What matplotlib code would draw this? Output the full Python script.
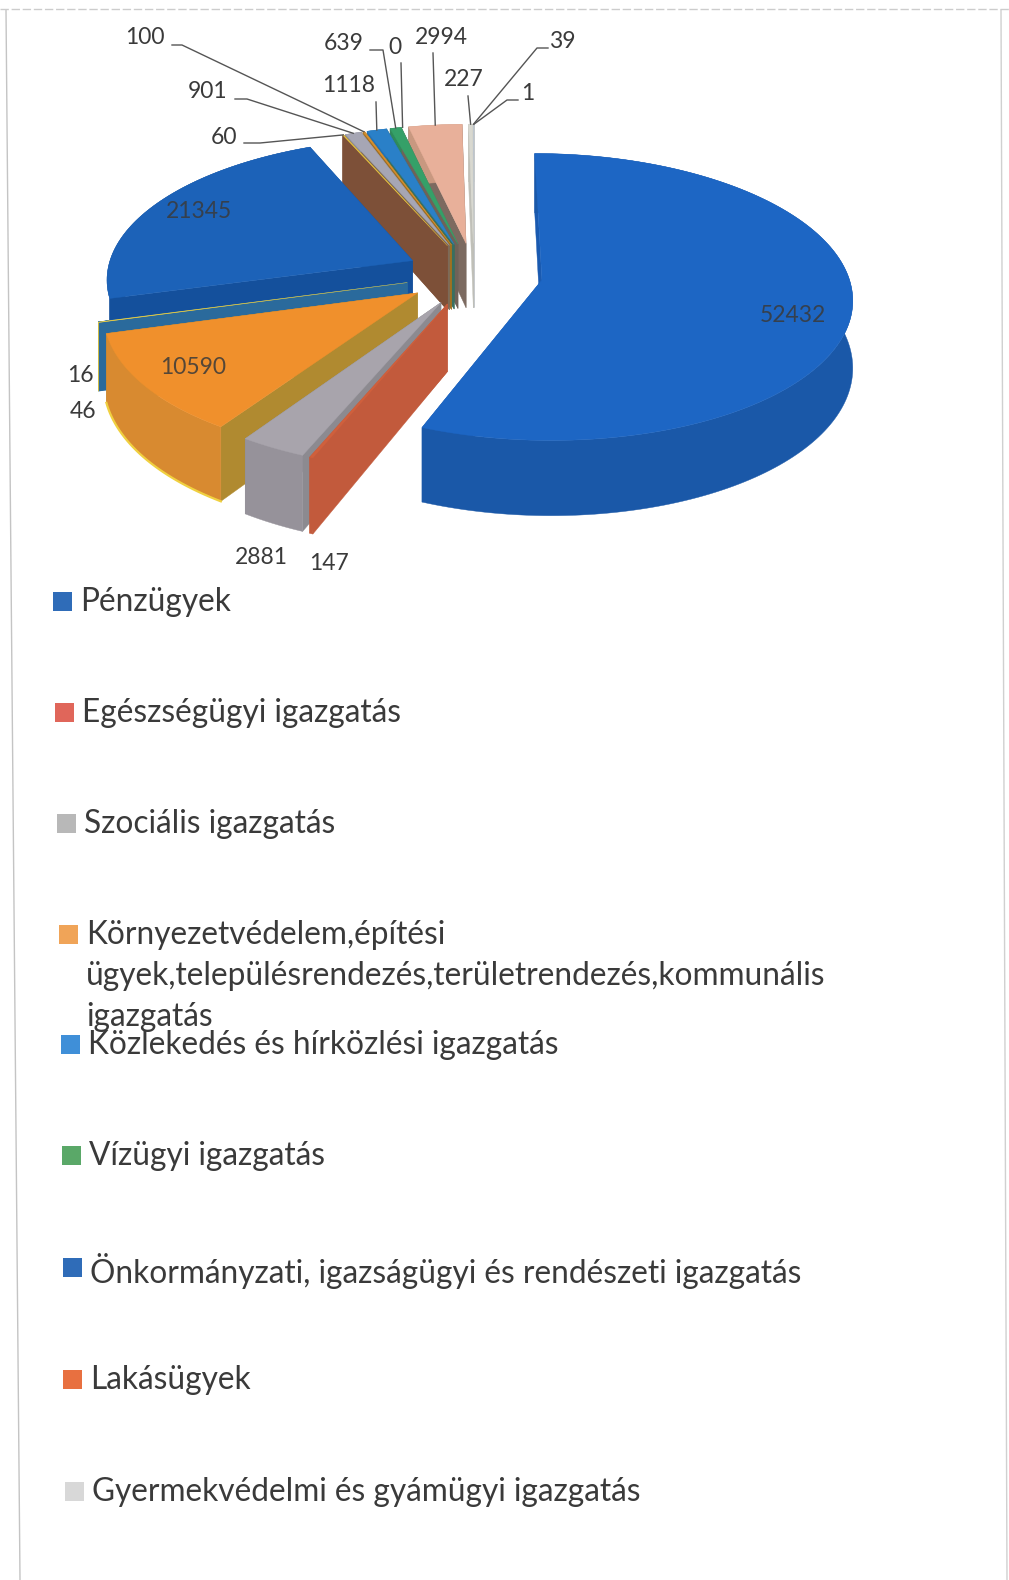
import numpy as np
import matplotlib
matplotlib.use("Agg")
import matplotlib.pyplot as plt
from matplotlib.patches import Polygon, Rectangle

# slices clockwise from 12 o'clock
values = [52432, 147, 2881, 10590, 46, 16, 21345, 60, 901, 100, 1118, 639, 0, 2994, 227, 39, 1]
top_colors = ['#1d66c4', '#d0603c', '#a8a4ac', '#f0902c', '#f0d040', '#2a6a9c', '#1c62b8', '#e8c840',
              '#a6a6b4', '#d89030', '#2a80c8', '#35a068', '#606060', '#e8b09a', '#d8d8d0', '#c0c8d0', '#d0d0d0']
arc_colors = ['#1a58a8', '#c25a3c', '#96929a', '#d88a30', '#e8c838', '#23608e', '#14509c', '#7d5038',
              '#8c8c98', '#b07820', '#2470b0', '#2f8a5a', '#606060', '#c89880', '#c0c0b8', '#b0b8c0', '#c0c0c0']
side_colors = ['#1a5ab0', '#c25a3c', '#8c8a90', '#b08a30', '#2a6a9c', '#2a6a9c', '#14509c', '#7d5038',
               '#7d6a58', '#a07020', '#387060', '#6f6258', '#606060', '#7c6a60', '#c0c0b8', '#b0b8c0', '#c0c0c0']

legend_labels = ['Pénzügyek', 'Egészségügyi igazgatás', 'Szociális igazgatás',
                 'Környezetvédelem,építési\nügyek,településrendezés,területrendezés,kommunális\nigazgatás',
                 'Közlekedés és hírközlési igazgatás', 'Vízügyi igazgatás',
                 'Önkormányzati, igazságügyi és rendészeti igazgatás', 'Lakásügyek',
                 'Gyermekvédelmi és gyámügyi igazgatás']
legend_colors = ['#2f6cb8', '#e0665a', '#b8b8b8', '#f0a458', '#3f8fd8', '#5aa868', '#2f6cb8', '#e87040', '#d8d8d8']

cx, cy = 474, 274
rx, ry, depth = 306, 140, 66
persp = 0.118
explode = 0.225

plt.rcParams['font.family'] = ['Lato', 'DejaVu Sans']
text_color = '#3a3a3a'

fig = plt.figure(figsize=(10.09, 15.80), dpi=100)
ax = fig.add_axes([0, 0, 1, 1])
ax.set_xlim(0, 1009)
ax.set_ylim(1580, 0)
ax.axis('off')


def project(x, y, z=0.0):
    s = 1 / (1 + persp * y)
    return cx + rx * x * s, cy - ry * y * s + depth * z * s


fractions = np.array(values) / sum(values)
ends = np.cumsum(fractions) * 2 * np.pi
starts = ends - fractions * 2 * np.pi
mids = (starts + ends) / 2


def outer_point(i):
    ox = np.sin(mids[i]) * explode
    oy = np.cos(mids[i]) * explode
    return project(ox + np.sin(mids[i]), oy + np.cos(mids[i]))


def draw_slice(i):
    ox = np.sin(mids[i]) * explode
    oy = np.cos(mids[i]) * explode
    t = np.linspace(starts[i], ends[i], max(4, int(fractions[i] * 300)))
    ux, uy = ox + np.sin(t), oy + np.cos(t)
    top_arc = [project(a, b) for a, b in zip(ux, uy)]
    low_arc = [project(a, b, 1) for a, b in zip(ux, uy)]
    apex, apex_low = project(ox, oy), project(ox, oy, 1)

    walls = [[apex, top_arc[0], low_arc[0], apex_low], [apex, top_arc[-1], low_arc[-1], apex_low]]
    walls.sort(key=lambda w: w[1][1])
    for w in walls:
        ax.add_patch(Polygon(w, closed=True, fc=side_colors[i], ec=side_colors[i], lw=0.3))
    ax.add_patch(Polygon(top_arc + low_arc[::-1], closed=True, fc=arc_colors[i], ec=arc_colors[i], lw=0.3))
    ax.add_patch(Polygon([apex] + top_arc, closed=True, fc=top_colors[i], ec=top_colors[i], lw=0.3))
    # the 46 slice only shows as a yellow rim on the orange one
    if i == 3:
        ax.plot([p[0] for p in low_arc], [p[1] for p in low_arc], color=top_colors[4], lw=1.6)


for i in sorted(range(len(values)), key=lambda k: -np.cos(mids[k])):
    if values[i] > 0:
        draw_slice(i)

# value labels
label_pos = {0: (793, 315), 1: (329, 564), 2: (261, 558), 3: (193, 368), 4: (83, 412), 5: (80, 375),
             6: (199, 211), 7: (224, 138), 8: (208, 91), 9: (145, 37), 10: (349, 86), 11: (344, 44),
             12: (395, 47), 13: (441, 37), 14: (464, 80), 15: (562, 42), 16: (528, 93)}
for i, (x, y) in label_pos.items():
    ax.text(x, y, str(values[i]), fontsize=16.5, color=text_color, ha='center', va='center', alpha=0.85 if i in (0, 3, 6) else 1)

# leader lines, last point is the slice edge
leaders = {9: [(172, 45), (182, 45)], 8: [(235, 99), (247, 99)], 7: [(244, 143), (260, 143)],
           10: [(376, 102)], 11: [(370, 50), (383, 50)], 12: [(401, 63)], 13: [(433, 53)],
           14: [(468, 96)], 15: [(548, 48), (537, 48)], 16: [(518, 100), (507, 100)]}
for i, pts in leaders.items():
    line = pts + [outer_point(i)]
    ax.plot([p[0] for p in line], [p[1] for p in line], color='#555555', lw=1.0)

# legend, drifts right because the page was scanned crooked
legend_x = [52, 54, 56, 58, 60, 61, 62, 62, 64]
legend_y = [601, 712, 823, 934, 1044, 1155, 1267, 1379, 1491]
for x, y, lab, col in zip(legend_x, legend_y, legend_labels, legend_colors):
    ax.add_patch(Rectangle((x + 1, y - 9), 19, 19, fc=col, ec='none'))
    ax.text(x + 28, y - 14, lab, fontsize=22.8, color=text_color, ha='left', va='top', linespacing=1.45)

# scan page edges
ax.plot([6, 20], [10, 1580], color='#c4c4c4', lw=1)
ax.plot([1001, 1007], [10, 1580], color='#d0d0d0', lw=1)
ax.plot([0, 1009], [9, 9], color='#cccccc', lw=1, ls=(0, (6, 2)))

fig.savefig('out.png', dpi=100)
